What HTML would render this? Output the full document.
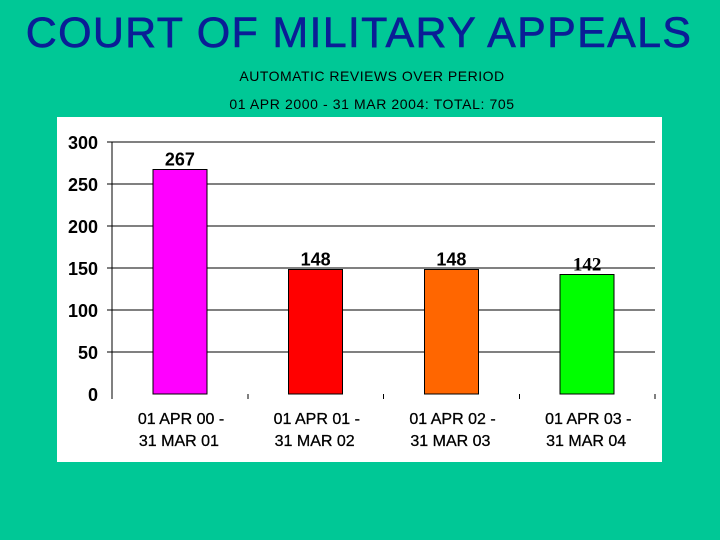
<!DOCTYPE html>
<html><head><meta charset="utf-8"><style>
body{margin:0;width:720px;height:540px;background:#00C896;overflow:hidden;font-family:"Liberation Sans",sans-serif}
</style></head><body>
<div style="position:absolute;left:0;width:718px;text-align:center;top:9px;font-size:43px;color:#0A1E96;letter-spacing:1.3px;-webkit-text-stroke:0.6px #0A1E96;">COURT OF MILITARY APPEALS</div>
<div style="position:absolute;left:0;width:744px;text-align:center;top:68px;font-size:14px;color:#000;letter-spacing:0.5px">AUTOMATIC REVIEWS OVER PERIOD</div>
<div style="position:absolute;left:0;width:744px;text-align:center;top:96px;font-size:14px;color:#000;letter-spacing:0.6px">01 APR 2000 - 31 MAR 2004: TOTAL: 705</div>
<svg width="720" height="540" style="position:absolute;left:0;top:0">
<rect x="57" y="117" width="605" height="345" fill="#fff"/>
<g id="g" shape-rendering="crispEdges"></g>
</svg>
<script>
const categories=[["01 APR 00 -","31 MAR 01"],["01 APR 01 -","31 MAR 02"],["01 APR 02 -","31 MAR 03"],["01 APR 03 -","31 MAR 04"]];
const values=[267,148,148,142];
const colors=["#FF00FF","#FF0000","#FF6600","#00FF00"];
const ticks=[0,50,100,150,200,250,300];
const NS="http://www.w3.org/2000/svg",g=document.getElementById('g');
const x0=112,x1=655,y0=394,yTop=142,max=300;
const y=v=>y0-(y0-yTop)*v/max;
const cw=(x1-x0)/categories.length;
function mk(t,a,txt){const e=document.createElementNS(NS,t);for(const k in a)e.setAttribute(k,a[k]);if(txt!=null)e.textContent=txt;g.appendChild(e);return e;}
ticks.forEach(v=>{
 if(v>0){const l=mk('line',{x1:x0-5,x2:x1,y1:y(v),y2:y(v),stroke:'#000','stroke-width':1});
 
 }
 const t=mk('text',{x:98,y:y(v)+7,'text-anchor':'end','font-size':18,'font-weight':'bold','font-family':'Liberation Sans'},v);
 
 
});
let ax=mk('line',{x1:x0,x2:x0,y1:yTop,y2:y0,stroke:'#000'});


for(let i=0;i<=categories.length;i++){const tk=mk('line',{x1:x0+i*cw,x2:x0+i*cw,y1:y0,y2:y0+5,stroke:'#000'});
 
 }
values.forEach((v,i)=>{
 const cx=x0+cw*(i+0.5);
 const r=mk('rect',{x:cx-27,y:y(v),width:54,height:y0-y(v),fill:colors[i],stroke:'#000','stroke-width':1});
 
 
 const lb=mk('text',{x:cx,y:y(v)-4,'text-anchor':'middle','font-size':i==3?19:18,'font-weight':'bold','font-family':i==3?'Liberation Serif':'Liberation Sans'},v);
 
 
 categories[i].forEach((s,j)=>{const c=mk('text',{x:cx-42+(j?1:0),y:424+j*22,'text-anchor':'start','font-size':16,'font-family':'Liberation Sans','stroke':'#000','stroke-width':0.3},s);
 
 });
});
</script>
</body></html>
